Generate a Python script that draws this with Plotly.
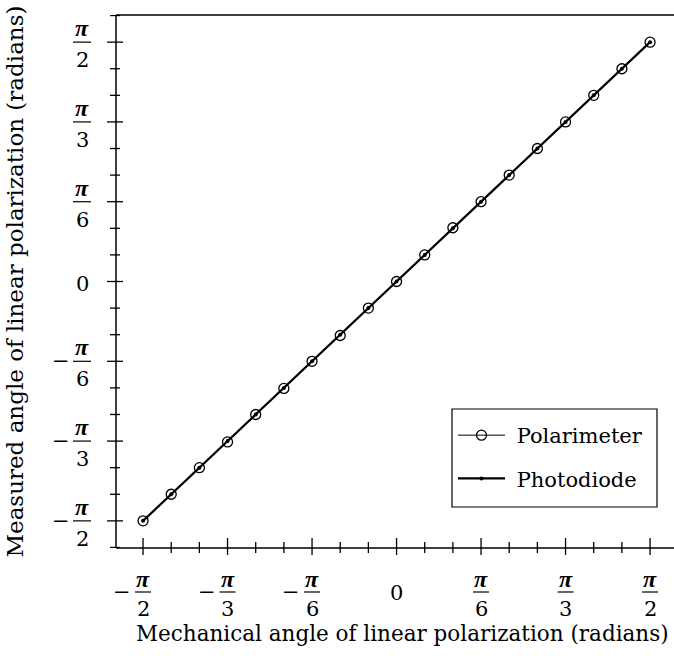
import numpy as np
import plotly.graph_objects as go

# ---------------- data (degrees) ----------------
mech_deg = [-90, -80, -70, -60, -50, -40, -30, -20, -10, 0,
            10, 20, 30, 40, 50, 60, 70, 80, 90]
polarimeter_deg = [-90, -80, -70, -60.3, -50, -40.2, -30, -20.3, -10, 0,
                   10, 20.2, 30, 40, 50, 60, 70, 80, 90]
photodiode_deg = [-90, -80, -70, -60, -50, -40, -30, -20, -10, 0,
                  10, 20, 30, 40, 50, 60, 70, 80, 90]

major_deg = [-90, -60, -30, 0, 30, 60, 90]
minor_deg = [-100, -80, -70, -50, -40, -20, -10, 10, 20, 40, 50, 70, 80, 100]
label_den = ["2", "3", "6", "0", "6", "3", "2"]
label_sign = ["-", "-", "-", "", "+", "+", "+"]

x_title = "Mechanical angle of linear polarization (radians)"
y_title = "Measured angle of linear polarization (radians)"

rad = np.pi / 180.0
FONT = "DejaVu Serif"
FS = 21

fig = go.Figure()
fig.add_trace(go.Scatter(
    x=np.array(mech_deg) * rad, y=np.array(polarimeter_deg) * rad,
    name="&nbsp;Polarimeter", mode="lines+markers", legendgroup="a",
    line=dict(color="black", width=1),
    marker=dict(symbol="circle-open", size=10, color="black", line=dict(width=1.3)),
))
fig.add_trace(go.Scatter(
    x=np.array(mech_deg) * rad, y=np.array(photodiode_deg) * rad,
    name="&nbsp;Photodiode", mode="lines+markers", legendgroup="b",
    line=dict(color="black", width=2.2),
    marker=dict(symbol="circle", size=4, color="black"),
))

shapes = []
annotations = []
axis_line = dict(color="black", width=1.5)
shapes.append(dict(type="line", xref="paper", yref="paper", x0=0, x1=1, y0=0, y1=0, line=axis_line))
shapes.append(dict(type="line", xref="paper", yref="paper", x0=0, x1=1, y0=1, y1=1, line=axis_line))
shapes.append(dict(type="line", xref="paper", yref="paper", x0=0, x1=0, y0=0, y1=1, line=axis_line))

tick_line = dict(color="black", width=1.3)
for v in major_deg:
    shapes.append(dict(type="line", xref="x", yref="paper", ysizemode="pixel", yanchor=0,
                       x0=v * rad, x1=v * rad, y0=-7, y1=10, line=tick_line))
    shapes.append(dict(type="line", yref="y", xref="paper", xsizemode="pixel", xanchor=0,
                       y0=v * rad, y1=v * rad, x0=-9, x1=7, line=tick_line))
for v in minor_deg:
    shapes.append(dict(type="line", xref="x", yref="paper", ysizemode="pixel", yanchor=0,
                       x0=v * rad, x1=v * rad, y0=-5, y1=6, line=tick_line))
    shapes.append(dict(type="line", yref="y", xref="paper", xsizemode="pixel", xanchor=0,
                       y0=v * rad, y1=v * rad, x0=-6, x1=4, line=tick_line))

pi_txt = "<b><i>π</i></b>"
tf = dict(family=FONT, size=FS, color="black")
pf = dict(family="Liberation Serif", size=24, color="black")
bar = dict(color="black", width=1.2)
for v, den, sg in zip(major_deg, label_den, label_sign):
    if den == "0":
        annotations.append(dict(x=0, y=0, xref="x", yref="paper", text="0", showarrow=False,
                                yanchor="middle", yshift=-45, font=tf))
        annotations.append(dict(x=0, y=0, xref="paper", yref="y", text="0", showarrow=False,
                                xanchor="center", xshift=-34, yshift=-2, font=tf))
        continue
    annotations.append(dict(x=v * rad, y=0, xref="x", yref="paper", text=pi_txt, showarrow=False,
                            yanchor="middle", yshift=-31, font=pf))
    annotations.append(dict(x=v * rad, y=0, xref="x", yref="paper", text=den, showarrow=False,
                            yanchor="middle", yshift=-61, font=tf))
    shapes.append(dict(type="line", xref="x", yref="paper", xsizemode="pixel", ysizemode="pixel",
                       xanchor=v * rad, yanchor=0, x0=-8, x1=8, y0=-44, y1=-44, line=bar))
    if sg == "-":
        annotations.append(dict(x=v * rad, y=0, xref="x", yref="paper", text="−", showarrow=False,
                                yanchor="middle", xshift=-21, yshift=-44, font=tf))
    annotations.append(dict(x=0, y=v * rad, xref="paper", yref="y", text=pi_txt, showarrow=False,
                            xanchor="center", xshift=-34, yanchor="middle", yshift=14, font=pf))
    annotations.append(dict(x=0, y=v * rad, xref="paper", yref="y", text=den, showarrow=False,
                            xanchor="center", xshift=-34, yanchor="middle", yshift=-18, font=tf))
    shapes.append(dict(type="line", yref="y", xref="paper", xsizemode="pixel", ysizemode="pixel",
                       yanchor=v * rad, xanchor=0, x0=-43, x1=-25, y0=0, y1=0, line=bar))
    if sg == "-":
        annotations.append(dict(x=0, y=v * rad, xref="paper", yref="y", text="−", showarrow=False,
                                xanchor="center", xshift=-55, yanchor="middle", font=tf))

annotations.append(dict(x=0.514, y=0, xref="paper", yref="paper", text=x_title, showarrow=False,
                        yanchor="middle", yshift=-85, font=dict(family=FONT, size=21.5, color="black")))
annotations.append(dict(x=0, y=0.5, xref="paper", yref="paper", text=y_title, showarrow=False,
                        textangle=-90, xanchor="center", yanchor="middle", xshift=-102,
                        font=dict(family=FONT, size=23, color="black")))

# legend frame
PW, PH = 558, 533
shapes.append(dict(type="rect", xref="paper", yref="paper", layer="above",
                   x0=(452 - 116) / PW, x1=(657 - 116) / PW,
                   y0=(548 - 507) / PH, y1=(548 - 409) / PH,
                   line=dict(color="black", width=1.2), fillcolor="rgba(0,0,0,0)"))

fig.update_layout(
    width=674, height=658,
    margin=dict(l=116, r=0, t=15, b=110),
    paper_bgcolor="white", plot_bgcolor="white",
    xaxis=dict(range=[-99.6 * rad, 98.5 * rad], showgrid=False, zeroline=False,
               showticklabels=False, ticks="", showline=False),
    yaxis=dict(range=[-100.2 * rad, 100.2 * rad], showgrid=False, zeroline=False,
               showticklabels=False, ticks="", showline=False),
    shapes=shapes, annotations=annotations,
    showlegend=True,
    legend=dict(x=(453 - 116) / PW, y=(548 - 415) / PH, xanchor="left", yanchor="top",
                borderwidth=0, bgcolor="rgba(255,255,255,0)",
                font=dict(family=FONT, size=FS, color="black"),
                itemwidth=47,
                traceorder="grouped", tracegroupgap=13),
    font=dict(family=FONT, color="black"),
)

fig.write_html("out.html")
